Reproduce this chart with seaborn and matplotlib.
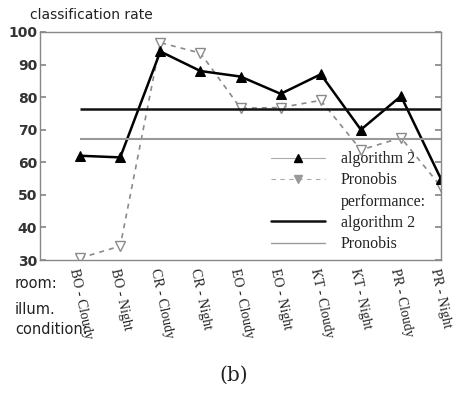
import numpy as np
import pandas as pd
import matplotlib
matplotlib.use("Agg")
import matplotlib.pyplot as plt
import seaborn as sns
from matplotlib.lines import Line2D

categories = ["BO - Cloudy", "BO - Night", "CR - Cloudy", "CR - Night", "EO - Cloudy",
              "EO - Night", "KT - Cloudy", "KT - Night", "PR - Cloudy", "PR - Night"]
algorithm2 = [62.0, 61.5, 94.0, 88.0, 86.3, 81.0, 87.0, 70.0, 80.3, 54.8]
pronobis = [30.6, 34.3, 96.7, 93.5, 76.6, 76.8, 79.0, 63.8, 67.5, 52.5]
perf_algorithm2 = 76.4
perf_pronobis = 67.2
yticks = [30, 40, 50, 60, 70, 80, 90, 100]

sns.set_theme(style="white")
plt.rcParams["font.family"] = ["DejaVu Sans"]

df = pd.DataFrame({"cond": categories * 2,
                   "rate": algorithm2 + pronobis,
                   "method": ["algorithm 2"] * len(categories) + ["Pronobis"] * len(categories)})
df["pos"] = list(range(len(categories))) * 2

fig = plt.figure(figsize=(4.68, 3.94), dpi=100)
ax = fig.add_axes([0.0855, 0.340, 0.857, 0.579])

sns.lineplot(data=df[df.method == "Pronobis"], x="pos", y="rate", ax=ax,
             color="#8a8a8a", lw=1.2, linestyle=(0, (3, 3)), marker="v", markersize=6.5,
             markerfacecolor="white", markeredgecolor="#8a8a8a", markeredgewidth=1.0)
sns.lineplot(data=df[df.method == "algorithm 2"], x="pos", y="rate", ax=ax,
             color="black", lw=1.8, marker="^", markersize=6.5,
             markerfacecolor="black", markeredgecolor="black")

n = len(categories)
ax.hlines(perf_algorithm2, 0, n - 1, color="#111111", lw=1.8)
ax.hlines(perf_pronobis, 0, n - 1, color="#999999", lw=1.5)

ax.set_xlim(-1, n - 1)
ax.set_ylim(30, 100)
ax.set_xlabel("")
ax.set_ylabel("")

ax.set_xticks(range(n))
ax.set_xticklabels(categories, rotation=-78, ha="left", va="top", rotation_mode="anchor",
                   family=["Liberation Serif"], fontsize=10, color="#222222")
ax.set_xticks([i for i in range(n) if i % 2 == 1], minor=True)
ax.tick_params(axis="x", which="major", length=0, pad=5)
ax.tick_params(axis="x", which="minor", length=4, direction="in", top=True, bottom=True,
               color="#888888")
ax.set_yticks(yticks)
ax.set_yticklabels([str(v) for v in yticks], fontsize=10, fontweight="bold", color="#333333")
ax.tick_params(axis="y", which="major", length=4, direction="in", left=True, right=True,
               color="#888888", pad=2)
for s in ax.spines.values():
    s.set_color("#888888")
    s.set_linewidth(1.0)

handles = [
    Line2D([], [], color="#aaaaaa", lw=0.8, marker="^", markersize=6,
           markerfacecolor="black", markeredgecolor="black"),
    Line2D([], [], color="#aaaaaa", lw=0.8, linestyle=(0, (4, 4)), marker="v", markersize=6,
           markerfacecolor="#999999", markeredgecolor="#999999"),
    Line2D([], [], color="none"),
    Line2D([], [], color="#111111", lw=1.8),
    Line2D([], [], color="#999999", lw=1.0),
]
labels = ["algorithm 2", "Pronobis", "performance:", "algorithm 2", "Pronobis"]
leg = ax.legend(handles, labels, loc="lower right", bbox_to_anchor=(0.99, -0.015),
                frameon=False, prop={"family": "Liberation Serif", "size": 11.5},
                handlelength=3.4, handletextpad=1.0, labelspacing=0.33, borderpad=0.2)
for t in leg.get_texts():
    t.set_color("#222222")

fig.text(30 / 468, 1 - 15 / 394, "classification rate", fontsize=10, color="#222222",
         va="center", ha="left")
fig.text(15 / 468, 1 - 283 / 394, "room:", fontsize=10.5, color="#222222", va="center")
fig.text(15 / 468, 1 - 310 / 394, "illum.", fontsize=10.5, color="#222222", va="center")
fig.text(15 / 468, 1 - 329 / 394, "condition:", fontsize=10.5, color="#222222", va="center")
fig.text(234 / 468, 1 - 375 / 394, "(b)", fontsize=14.5, family="DejaVu Serif",
         color="#222222", ha="center", va="center")

fig.savefig("out.png", dpi=100)
